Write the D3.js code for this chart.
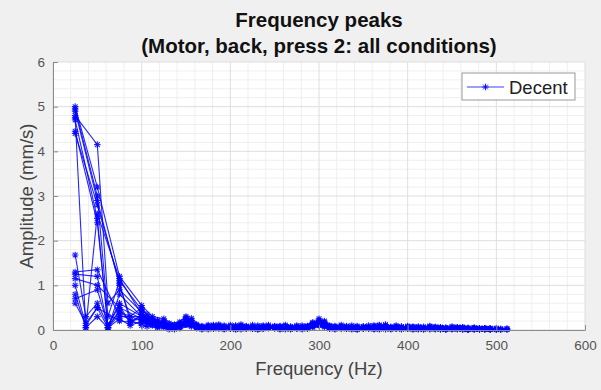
<!DOCTYPE html>
<html><head><meta charset="utf-8">
<script src="https://cdn.jsdelivr.net/npm/d3@7"></script>
<style>body{margin:0;background:#f0f0f0}</style></head><body>
<svg id="c" width="601" height="390"></svg>
<script>
// ---- data ----
const xTicks = [0, 100, 200, 300, 400, 500, 600];
const yTicks = [0, 1, 2, 3, 4, 5, 6];
const titleLines = ["Frequency peaks", "(Motor, back, press 2: all conditions)"];
const xLabel = "Frequency (Hz)";
const yLabel = "Amplitude (mm/s)";
const legendLabel = "Decent";

// peak frequencies (Hz): two detection grids
const freqA = [25,37,50,62,75,87,100,112,125,137,150,162,175,187,200,212,225,237,250,262,275,287,300,312,325,337,350,362,375,387,400,412,425,437,450,462,475,487,500,512];
const freqB = [25,37,50,62,75,87,100,106,118,131,143,156,168,181,193,206,218,231,243,256,268,281,293,306,318,331,343,356,368,381,393,406,418,431,443,456,468,481,493,505];

// amplitudes (mm/s) per condition; null = no peak at that frequency
const condA1 = [5.0,null,3.2,null,1.2,null,0.55, 0.30,0.25,0.12,0.28,0.10,0.08,0.12,0.06,0.10,0.08,0.05,0.09,0.07,0.10,0.06,0.22,0.10,0.07,0.05,0.08,0.06,0.10,0.07,0.05,0.08,0.04,0.06,0.05,0.03,0.05,0.03,0.02,0.03];
const condA2 = [4.9,null,2.9,null,1.0,0.3,0.5, 0.22,0.18,0.08,0.24,0.12,0.05,0.09,0.11,0.04,0.07,0.10,0.05,0.08,0.04,0.09,0.18,0.06,0.09,0.04,0.07,0.10,0.05,0.08,0.06,0.03,0.07,0.05,0.02,0.06,0.04,0.02,0.04];
const condA3 = [4.75,0.05,2.6,null,1.15,null,0.35, 0.26,0.14,0.10,0.30,0.07,0.11,0.05,0.08,0.12,0.05,0.08,0.06,0.11,0.07,0.05,0.25,0.08,0.05,0.10,0.04,0.08,0.12,0.04,0.09,0.05,0.07,0.03,0.08,0.05,0.02,0.04,0.03,0.01];
const condA4 = [4.45,null,2.4,0.1,0.6,null,0.3, 0.18,0.20,0.06,0.20,0.09,0.04,0.10,0.07,0.05,0.11,0.06,0.04,0.09,0.05,0.08,0.16,0.07,0.11,0.06,0.03,0.09,0.06,0.10,0.04,0.06,0.09,0.04,0.06,0.03,0.05,0.02];
const condA5 = [1.68,0.3,0.6,0.1,0.4,null,0.2, 0.15,0.10,0.04,0.18,0.06,0.09,0.03,0.05,0.08,0.03,0.06,0.08,0.04,0.06,0.03,0.12,0.05,0.03,0.07,0.05,0.02,0.06,0.04,0.07,0.03,0.05,0.02,0.04,0.06,0.02,0.04,0.01];
const condA6 = [1.25,null,1.2,0.05,0.45,0.2,0.3, 0.12,0.16,0.05,0.14,0.04,0.07,0.06,0.03,0.07,0.05,0.03,0.07,0.05,0.03,0.06,0.14,0.04,0.06,0.03,0.06,0.04,0.07,0.03,0.05,0.04,0.02,0.05,0.03,0.02,0.04];
const condA7 = [0.8,0.05,0.3,0.05,0.25,0.1,0.2, 0.10,0.06,0.02,0.12,0.05,0.02,0.06,0.04,0.02,0.05,0.03,0.06,0.02,0.04,0.05,0.10,0.03,0.05,0.02,0.04,0.03,0.02,0.05,0.03,0.02,0.04,0.02,0.03,0.01,0.03,0.02,0.01,0.02];
const condA8 = [1.15,null,1.0,null,0.5,null,0.25, 0.20,0.09,0.07,0.16,0.05,0.06,0.08,0.04,0.06,0.03,0.07,0.04,0.05,0.08,0.04,0.15,0.06,0.04,0.05,0.07,0.03,0.05,0.06,0.03,0.05,0.04,0.06,0.03,0.04,0.02,0.03];
const condB1 = [4.95,null,3.0,0.3,1.1,null,0.45, 0.35,0.20,0.15,0.18,0.26,0.08,0.11,0.06,0.09,0.07,0.10,0.06,0.08,0.05,0.10,0.17,0.20,0.08,0.06,0.09,0.05,0.11,0.07,0.06,0.08,0.05,0.07,0.04,0.06,0.04,0.03,0.04,0.02];
const condB2 = [4.8,null,4.15,0.6,0.9,null,0.4, 0.28,0.22,0.09,0.14,0.22,0.06,0.10,0.08,0.05,0.09,0.06,0.11,0.05,0.08,0.06,0.14,0.18,0.06,0.09,0.05,0.07,0.10,0.05,0.08,0.04,0.07,0.05,0.03,0.06,0.03,0.04,0.02];
const condB3 = [4.7,null,2.5,0.05,0.8,null,0.3, 0.24,0.16,0.11,0.12,0.20,0.09,0.05,0.10,0.07,0.04,0.08,0.06,0.09,0.04,0.07,0.15,0.16,0.09,0.05,0.07,0.10,0.06,0.04,0.07,0.06,0.04,0.06,0.05,0.03,0.05,0.02,0.03,0.02];
const condB4 = [4.4,null,2.8,null,1.05,0.2,0.25, 0.20,0.14,0.07,0.10,0.16,0.05,0.08,0.04,0.10,0.06,0.05,0.09,0.04,0.07,0.05,0.12,0.14,0.05,0.08,0.04,0.06,0.08,0.05,0.03,0.06,0.05,0.03,0.05,0.04,0.02,0.03];
const condB5 = [1.3,null,1.35,null,0.3,null,0.3, 0.18,0.12,0.06,0.08,0.14,0.04,0.07,0.05,0.03,0.06,0.04,0.07,0.03,0.05,0.04,0.10,0.12,0.04,0.06,0.03,0.05,0.07,0.03,0.05,0.04,0.03,0.05,0.02,0.04,0.02,0.03,0.02,0.01];
const condB6 = [1.0,0.1,0.5,null,0.2,null,0.15, 0.14,0.08,0.04,0.06,0.10,0.03,0.05,0.02,0.06,0.04,0.02,0.05,0.03,0.02,0.04,0.08,0.09,0.03,0.04,0.02,0.05,0.03,0.02,0.04,0.03,0.02,0.04,0.02,0.03,0.01,0.02];
const condB7 = [0.6,0.15,0.5,0.05,0.35,null,0.1, 0.08,0.05,0.02,0.04,0.08,0.02,0.04,0.03,0.01,0.03,0.02,0.04,0.02,0.03,0.02,0.06,0.07,0.02,0.03,0.01,0.03,0.02,0.04,0.02,0.01,0.03,0.02,0.01,0.02,0.01,0.02,0.01];
const condB8 = [0.7,null,0.9,0.1,0.55,0.15,0.35, 0.22,0.10,0.05,0.09,0.12,0.06,0.03,0.07,0.05,0.08,0.03,0.05,0.07,0.04,0.06,0.11,0.13,0.05,0.03,0.06,0.04,0.05,0.06,0.03,0.05,0.02,0.04,0.03,0.05,0.02,0.03,0.02];

const conditions = [
  [freqA, condA1],[freqA, condA2],[freqA, condA3],[freqA, condA4],
  [freqA, condA5],[freqA, condA6],[freqA, condA7],[freqA, condA8],
  [freqB, condB1],[freqB, condB2],[freqB, condB3],[freqB, condB4],
  [freqB, condB5],[freqB, condB6],[freqB, condB7],[freqB, condB8]
];

// ---- drawing ----
const svg = d3.select("#c");
const W = 601, H = 390;
const L = 53, R = 585, T = 62, B = 330;
const x = d3.scaleLinear().domain([0, 600]).range([L, R]);
const y = d3.scaleLinear().domain([0, 6]).range([B, T]);
const blue = "#0000ff";
const font = "'Liberation Sans', Arial, Helvetica, sans-serif";

svg.append("rect").attr("width", W).attr("height", H).attr("fill", "#f0f0f0");
svg.append("rect").attr("x", L).attr("y", T).attr("width", R - L).attr("height", B - T).attr("fill", "#fff");

// grid: minor then major
const g = svg.append("g");
const minorX = d3.range(0, 601, 20).filter(v => v % 100 !== 0);
const minorY = d3.range(0, 31).map(i => i / 5).filter((v, i) => i % 5 !== 0);
g.selectAll(".mx").data(minorX).join("line")
  .attr("x1", d => x(d)).attr("x2", d => x(d)).attr("y1", T).attr("y2", B)
  .attr("stroke", "#efefef").attr("stroke-width", 1);
g.selectAll(".my").data(minorY).join("line")
  .attr("y1", d => y(d)).attr("y2", d => y(d)).attr("x1", L).attr("x2", R)
  .attr("stroke", "#efefef").attr("stroke-width", 1);
g.selectAll(".Mx").data(xTicks).join("line")
  .attr("x1", d => x(d)).attr("x2", d => x(d)).attr("y1", T).attr("y2", B)
  .attr("stroke", "#dedede").attr("stroke-width", 1);
g.selectAll(".My").data(yTicks).join("line")
  .attr("y1", d => y(d)).attr("y2", d => y(d)).attr("x1", L).attr("x2", R)
  .attr("stroke", "#dedede").attr("stroke-width", 1);

// data lines
const line = d3.line().x(d => x(d[0])).y(d => y(d[1]));
const starPath = "M-3.3,0H3.3M0,-3.3V3.3M-2.4,-2.4L2.4,2.4M-2.4,2.4L2.4,-2.4";
const plot = svg.append("g");
conditions.forEach(([f, a]) => {
  const pts = [];
  for (let i = 0; i < Math.min(f.length, a.length); i++) if (a[i] != null) pts.push([f[i], a[i]]);
  plot.append("path").attr("d", line(pts)).attr("fill", "none")
    .attr("stroke", blue).attr("stroke-width", 1.1).attr("stroke-opacity", 0.85);
  plot.selectAll(null).data(pts).join("path")
    .attr("transform", d => `translate(${x(d[0])},${y(d[1])})`)
    .attr("d", starPath).attr("fill", "none").attr("stroke", blue)
    .attr("stroke-width", 1.1).attr("stroke-opacity", 0.85);
});

// axes
const axCol = "#8a8a8a";
const xa = svg.append("g").attr("transform", `translate(0,${B})`)
  .call(d3.axisBottom(x).tickValues(xTicks).tickFormat(d3.format("d")).tickSizeInner(-5).tickSizeOuter(0).tickPadding(10));
const ya = svg.append("g").attr("transform", `translate(${L},0)`)
  .call(d3.axisLeft(y).tickValues(yTicks).tickFormat(d3.format("d")).tickSizeInner(-5).tickSizeOuter(0).tickPadding(8));
[xa, ya].forEach(a => {
  a.select(".domain").attr("stroke", axCol).attr("stroke-width", 1);
  a.selectAll(".tick line").attr("stroke", axCol);
  a.selectAll(".tick text").attr("fill", "#555").attr("font-family", font).attr("font-size", 13.5);
});

// labels
svg.append("text").attr("x", (L + R) / 2).attr("y", 375).attr("text-anchor", "middle")
  .attr("font-family", font).attr("font-size", 18.5).attr("fill", "#444").text(xLabel);
svg.append("text").attr("transform", `translate(33,${(T + B) / 2}) rotate(-90)`).attr("text-anchor", "middle")
  .attr("font-family", font).attr("font-size", 18.5).attr("fill", "#444").text(yLabel);
titleLines.forEach((t, i) => {
  svg.append("text").attr("x", (L + R) / 2).attr("y", 27 + i * 26).attr("text-anchor", "middle")
    .attr("font-family", font).attr("font-size", 20.5).attr("font-weight", "bold").attr("fill", "#111").text(t);
});

// legend
const lg = svg.append("g");
lg.append("rect").attr("x", 462).attr("y", 73).attr("width", 113).attr("height", 27)
  .attr("fill", "#fff").attr("stroke", "#999").attr("stroke-width", 1);
lg.append("line").attr("x1", 467).attr("x2", 504).attr("y1", 87).attr("y2", 87)
  .attr("stroke", blue).attr("stroke-width", 0.9).attr("stroke-opacity", 0.85);
lg.append("path").attr("transform", "translate(485.5,87)").attr("d", starPath)
  .attr("fill", "none").attr("stroke", blue).attr("stroke-width", 0.9);
lg.append("text").attr("x", 509).attr("y", 94).attr("font-family", font).attr("font-size", 18.5)
  .attr("fill", "#222").text(legendLabel);
</script></body></html>
